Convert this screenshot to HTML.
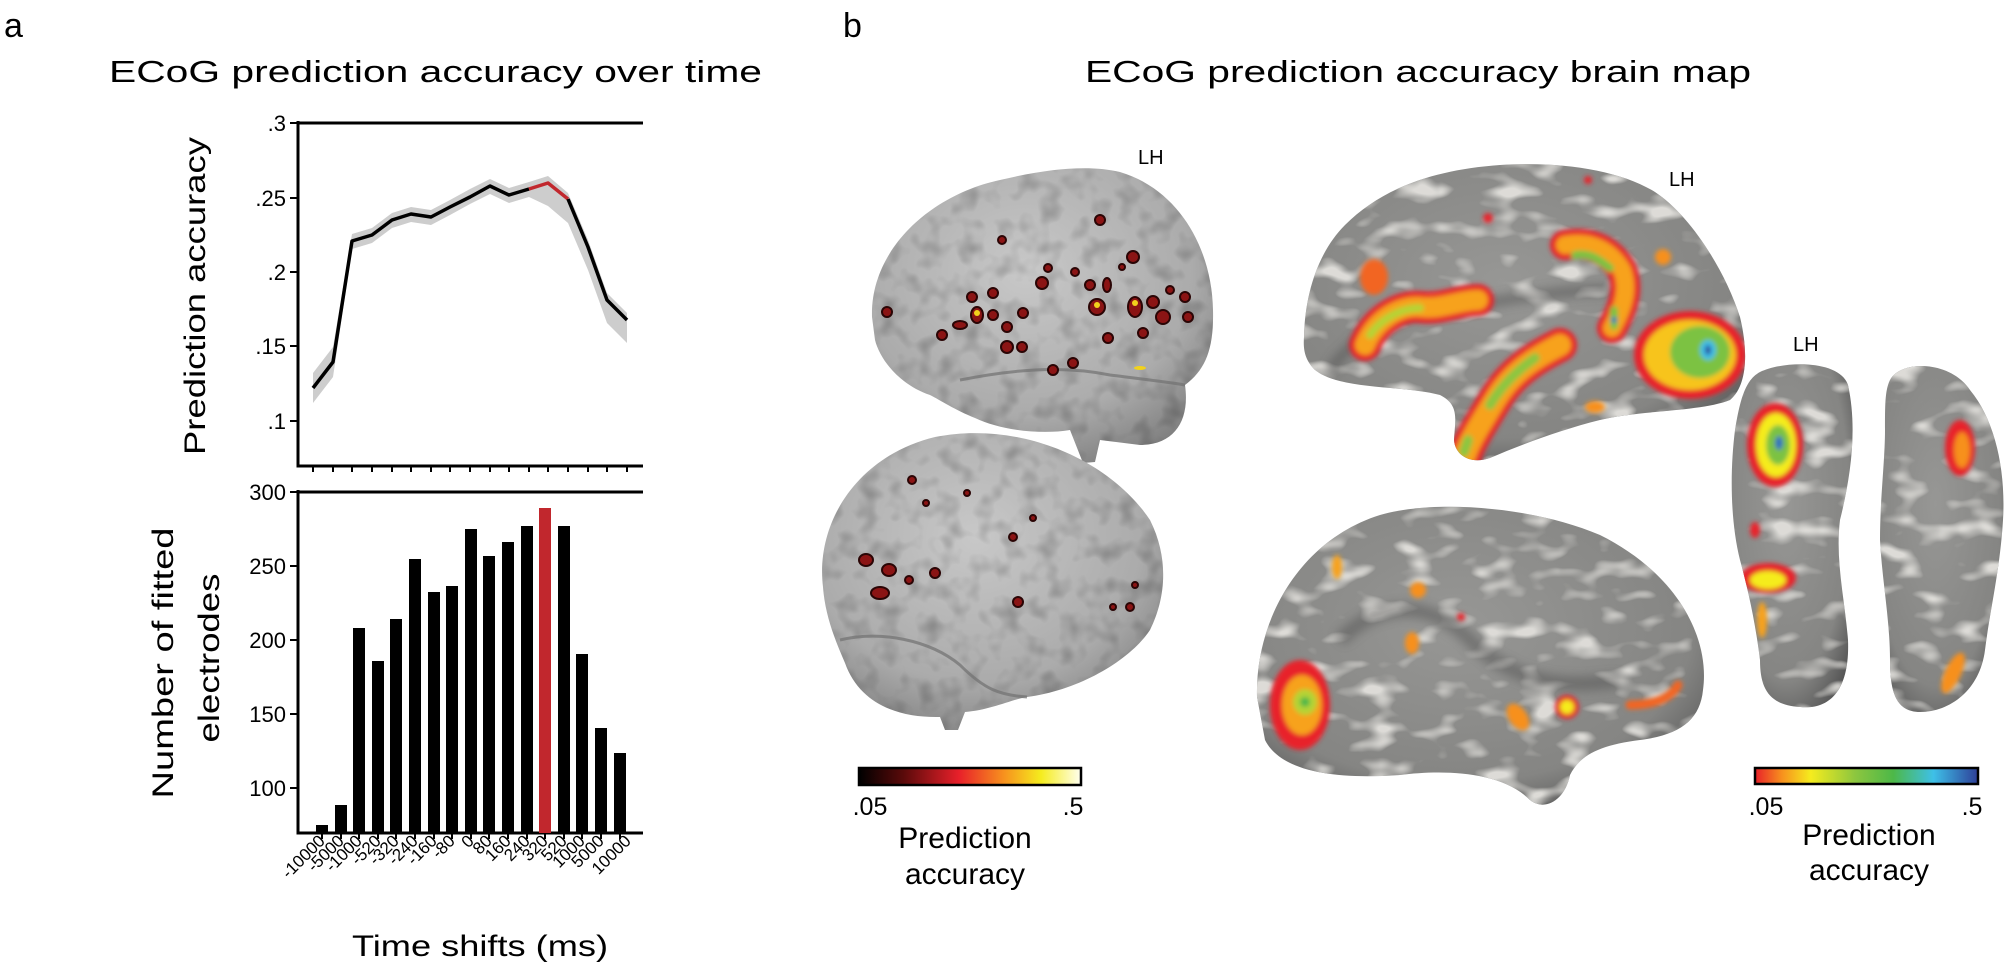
<!DOCTYPE html>
<html><head><meta charset="utf-8"><style>
html,body{margin:0;padding:0;background:#fff}
svg{display:block}
text{font-family:"Liberation Sans",sans-serif}
</style></head><body>
<svg width="2007" height="967" viewBox="0 0 2007 967" xmlns="http://www.w3.org/2000/svg">
<defs>
<radialGradient id="pial" cx="45%" cy="35%" r="70%"><stop offset="0" stop-color="#c8c8c8"/><stop offset="0.7" stop-color="#ababab"/><stop offset="1" stop-color="#808080"/></radialGradient>
<radialGradient id="infl" cx="45%" cy="40%" r="70%"><stop offset="0" stop-color="#979795"/><stop offset="0.75" stop-color="#858583"/><stop offset="1" stop-color="#555"/></radialGradient>
<linearGradient id="cb1" x1="0" x2="1"><stop offset="0" stop-color="#000"/><stop offset="0.2" stop-color="#5a0a0a"/><stop offset="0.45" stop-color="#e8202a"/><stop offset="0.65" stop-color="#f7901e"/><stop offset="0.82" stop-color="#f5ec1e"/><stop offset="1" stop-color="#fffff0"/></linearGradient>
<linearGradient id="cb2" x1="0" x2="1"><stop offset="0" stop-color="#e8202a"/><stop offset="0.12" stop-color="#f7901e"/><stop offset="0.25" stop-color="#f5ec1e"/><stop offset="0.45" stop-color="#8cc63f"/><stop offset="0.62" stop-color="#4db848"/><stop offset="0.8" stop-color="#3ec0e8"/><stop offset="1" stop-color="#2e3f98"/></linearGradient>
<filter id="bl" x="-50%" y="-50%" width="200%" height="200%"><feGaussianBlur stdDeviation="2.5"/></filter>
<filter id="bl6" x="-50%" y="-50%" width="200%" height="200%"><feGaussianBlur stdDeviation="5"/></filter>
<filter id="tex"><feTurbulence type="fractalNoise" baseFrequency="0.05" numOctaves="2" seed="3"/><feColorMatrix values="0 0 0 0 0  0 0 0 0 0  0 0 0 0 0  0 0 0 -2.2 1.2"/><feComposite in2="SourceGraphic" operator="in"/></filter>
<filter id="tex2"><feTurbulence type="fractalNoise" baseFrequency="0.025 0.05" numOctaves="2" seed="7"/><feColorMatrix values="0 0 0 0 0.72  0 0 0 0 0.71  0 0 0 0 0.68  0 0 0 -4 1.9"/><feComposite in2="SourceGraphic" operator="in"/></filter>
<clipPath id="cL"><path id="pL" d="M1304,337 C1305,290 1320,250 1345,225 C1380,190 1430,170 1500,165 C1560,161 1620,170 1655,192 C1690,215 1725,270 1740,317 C1748,350 1748,385 1730,400 C1700,412 1640,410 1600,420 C1560,430 1520,445 1490,458 C1470,465 1455,455 1454,440 C1455,420 1460,405 1440,395 C1400,385 1340,390 1315,370 C1305,360 1303,350 1304,337 Z"/></clipPath>
<clipPath id="cM"><path id="pM" d="M1257,697 C1255,620 1300,540 1380,515 C1430,500 1530,505 1600,535 C1680,575 1710,640 1703,690 C1700,720 1680,735 1640,740 C1600,745 1580,755 1570,775 C1565,800 1545,812 1530,800 C1500,770 1440,770 1400,775 C1330,780 1280,770 1265,740 Z"/></clipPath>
<clipPath id="cV1"><path id="pV1" d="M1760,372 C1785,360 1840,360 1848,385 C1858,430 1850,480 1840,520 C1835,560 1845,600 1848,640 C1850,690 1830,710 1800,707 C1770,705 1760,690 1760,660 C1755,620 1748,590 1740,560 C1730,520 1730,470 1735,430 C1740,400 1745,380 1760,372 Z"/></clipPath>
<clipPath id="cV2"><path id="pV2" d="M1890,380 C1900,360 1950,360 1970,390 C1995,420 2006,470 2003,520 C2000,570 1990,610 1985,650 C1980,690 1950,712 1920,712 C1895,712 1890,690 1890,660 C1890,620 1882,580 1880,540 C1880,500 1885,460 1885,430 C1885,405 1885,390 1890,380 Z"/></clipPath>
</defs>

<text x="4" y="37" font-size="34">a</text>
<text x="843" y="37" font-size="34">b</text>
<text x="109" y="82" font-size="31" textLength="653" lengthAdjust="spacingAndGlyphs">ECoG prediction accuracy over time</text>
<text x="1085" y="82" font-size="31" textLength="666" lengthAdjust="spacingAndGlyphs">ECoG prediction accuracy brain map</text>

<g stroke="#000" stroke-width="3" fill="none">
<path d="M298,123 L643,123 M298,121 L298,466 L643,466"/>
</g>
<g stroke="#000" stroke-width="2">
<path d="M290,123H298M290,198H298M290,272H298M290,346H298M290,421H298"/>
<path d="M313,466v6M333,466v6M352,466v6M372,466v6M392,466v6M411,466v6M431,466v6M450,466v6M470,466v6M490,466v6M509,466v6M529,466v6M548,466v6M568,466v6M588,466v6M607,466v6M627,466v6"/>
</g>
<g font-size="22" text-anchor="end">
<text x="286" y="131">.3</text><text x="286" y="206">.25</text><text x="286" y="280">.2</text><text x="286" y="354">.15</text><text x="286" y="429">.1</text>
</g>
<text transform="translate(205,296) rotate(-90)" font-size="30" text-anchor="middle" textLength="318" lengthAdjust="spacingAndGlyphs">Prediction accuracy</text>
<path d="M313,373 L333,347 L352,234 L372,228 L392,213 L411,207 L431,210 L450,200 L470,189 L490,179 L509,188 L529,182 L548,176 L568,193 L588,240 L607,293 L627,313 L627,343 L607,323 L588,270 L568,223 L548,206 L529,197 L509,203 L490,194 L470,204 L450,215 L431,225 L411,222 L392,228 L372,243 L352,249 L333,377 L313,403 Z" fill="#cdcdcd"/>
<polyline points="313,388 333,362 352,241 372,235 392,220 411,214 431,217 450,207 470,197 490,186 509,195 529,189" fill="none" stroke="#000" stroke-width="3.5" stroke-linejoin="round"/>
<polyline points="529,189 548,183 568,199" fill="none" stroke="#c1272d" stroke-width="3.5" stroke-linejoin="round"/>
<polyline points="568,199 588,247 607,300 627,320" fill="none" stroke="#000" stroke-width="3.5" stroke-linejoin="round"/>

<g stroke="#000" stroke-width="3" fill="none">
<path d="M298,492 L643,492 M298,490 L298,833 L643,833"/>
</g>
<g stroke="#000" stroke-width="2">
<path d="M290,492H298M290,566H298M290,640H298M290,714H298M290,788H298"/>
<path d="M322,833v6M341,833v6M359,833v6M378,833v6M396,833v6M415,833v6M434,833v6M452,833v6M471,833v6M489,833v6M508,833v6M527,833v6M545,833v6M564,833v6M582,833v6M601,833v6M620,833v6"/>
</g>
<g font-size="22" text-anchor="end">
<text x="286" y="500">300</text><text x="286" y="574">250</text><text x="286" y="648">200</text><text x="286" y="722">150</text><text x="286" y="796">100</text>
</g>
<g fill="#000">
<rect x="316" y="825" width="12" height="8"/>
<rect x="335" y="805" width="12" height="28"/>
<rect x="353" y="628" width="12" height="205"/>
<rect x="372" y="661" width="12" height="172"/>
<rect x="390" y="619" width="12" height="214"/>
<rect x="409" y="559" width="12" height="274"/>
<rect x="428" y="592" width="12" height="241"/>
<rect x="446" y="586" width="12" height="247"/>
<rect x="465" y="529" width="12" height="304"/>
<rect x="483" y="556" width="12" height="277"/>
<rect x="502" y="542" width="12" height="291"/>
<rect x="521" y="526" width="12" height="307"/>
<rect x="539" y="508" width="12" height="325" fill="#c1272d"/>
<rect x="558" y="526" width="12" height="307"/>
<rect x="576" y="654" width="12" height="179"/>
<rect x="595" y="728" width="12" height="105"/>
<rect x="614" y="753" width="12" height="80"/>
</g>
<g font-size="17" text-anchor="end">
<text transform="translate(326,842) rotate(-45)">-10000</text>
<text transform="translate(345,842) rotate(-45)">-5000</text>
<text transform="translate(363,842) rotate(-45)">-1000</text>
<text transform="translate(382,842) rotate(-45)">-520</text>
<text transform="translate(400,842) rotate(-45)">-320</text>
<text transform="translate(419,842) rotate(-45)">-240</text>
<text transform="translate(438,842) rotate(-45)">-160</text>
<text transform="translate(456,842) rotate(-45)">-80</text>
<text transform="translate(475,842) rotate(-45)">0</text>
<text transform="translate(493,842) rotate(-45)">80</text>
<text transform="translate(512,842) rotate(-45)">160</text>
<text transform="translate(531,842) rotate(-45)">240</text>
<text transform="translate(549,842) rotate(-45)">320</text>
<text transform="translate(568,842) rotate(-45)">520</text>
<text transform="translate(586,842) rotate(-45)">1000</text>
<text transform="translate(605,842) rotate(-45)">5000</text>
<text transform="translate(632,842) rotate(-45)">10000</text>
</g>
<text transform="translate(173,663) rotate(-90)" font-size="30" text-anchor="middle" textLength="271" lengthAdjust="spacingAndGlyphs">Number of fitted</text>
<text transform="translate(219,658) rotate(-90)" font-size="30" text-anchor="middle" textLength="169" lengthAdjust="spacingAndGlyphs">electrodes</text>
<text x="480" y="956" font-size="30" text-anchor="middle" textLength="256" lengthAdjust="spacingAndGlyphs">Time shifts (ms)</text>

<path d="M872,317 C870,250 930,195 1000,180 C1050,168 1090,165 1120,172 C1180,190 1212,250 1213,310 C1214,350 1205,370 1185,385 C1190,420 1175,445 1140,445 L1100,440 L1095,462 L1083,463 L1070,430 C1040,435 1000,430 975,418 C955,410 940,400 930,395 C900,385 880,360 875,340 Z" fill="url(#pial)"/>
<path d="M872,317 C870,250 930,195 1000,180 C1050,168 1090,165 1120,172 C1180,190 1212,250 1213,310 C1214,350 1205,370 1185,385 C1190,420 1175,445 1140,445 L1100,440 L1095,462 L1083,463 L1070,430 C1040,435 1000,430 975,418 C955,410 940,400 930,395 C900,385 880,360 875,340 Z" fill="#777" filter="url(#tex)" opacity="0.22"/>
<path d="M960,380 C1010,370 1060,365 1110,375 C1150,380 1175,383 1185,385" fill="none" stroke="#707070" stroke-width="3" opacity="0.7"/>
<g fill="#8b1414" stroke="#2a0505" stroke-width="2">
<circle cx="887" cy="312" r="5"/><circle cx="942" cy="335" r="5"/><ellipse cx="960" cy="325" rx="7" ry="4"/><ellipse cx="977" cy="315" rx="6" ry="8"/><circle cx="972" cy="297" r="5"/><circle cx="993" cy="293" r="5"/><circle cx="993" cy="315" r="5"/><circle cx="1007" cy="327" r="5"/><circle cx="1023" cy="313" r="5"/><circle cx="1042" cy="283" r="6"/><circle cx="1007" cy="347" r="6"/><circle cx="1022" cy="347" r="5"/><circle cx="1053" cy="370" r="5"/><circle cx="1073" cy="363" r="5"/><circle cx="1097" cy="307" r="8"/><circle cx="1108" cy="338" r="5"/><ellipse cx="1107" cy="285" rx="4" ry="7"/><circle cx="1090" cy="285" r="5"/><circle cx="1075" cy="272" r="4"/><ellipse cx="1135" cy="307" rx="7" ry="10"/><circle cx="1143" cy="333" r="5"/><circle cx="1153" cy="302" r="6"/><circle cx="1163" cy="317" r="7"/><circle cx="1133" cy="257" r="6"/><circle cx="1100" cy="220" r="5"/><circle cx="1002" cy="240" r="4"/><circle cx="1048" cy="268" r="4"/><circle cx="1185" cy="297" r="5"/><circle cx="1188" cy="317" r="5"/><circle cx="1170" cy="290" r="4"/><circle cx="1122" cy="267" r="3"/>
</g>
<g fill="#f2d21c"><circle cx="977" cy="313" r="3"/><circle cx="1097" cy="305" r="3"/><circle cx="1135" cy="303" r="3"/><ellipse cx="1140" cy="368" rx="6" ry="2"/></g>
<text x="1138" y="164" font-size="20">LH</text>

<path d="M823,587 C815,520 860,455 935,437 C1020,420 1110,460 1150,520 C1170,560 1165,600 1150,630 C1130,660 1080,690 1027,697 C1010,700 990,710 965,712 L958,730 L945,730 L940,717 C900,718 860,705 845,663 C835,640 825,615 823,587 Z" fill="url(#pial)"/>
<path d="M823,587 C815,520 860,455 935,437 C1020,420 1110,460 1150,520 C1170,560 1165,600 1150,630 C1130,660 1080,690 1027,697 C1010,700 990,710 965,712 L958,730 L945,730 L940,717 C900,718 860,705 845,663 C835,640 825,615 823,587 Z" fill="#777" filter="url(#tex)" opacity="0.22"/>
<path d="M840,640 C880,630 930,640 960,665 C985,690 1000,695 1027,697" fill="none" stroke="#707070" stroke-width="3" opacity="0.7"/>
<g fill="#8b1414" stroke="#2a0505" stroke-width="2">
<ellipse cx="866" cy="560" rx="7" ry="6"/><ellipse cx="889" cy="570" rx="7" ry="6"/><ellipse cx="880" cy="593" rx="9" ry="6"/><circle cx="909" cy="580" r="4"/><circle cx="935" cy="573" r="5"/><circle cx="1018" cy="602" r="5"/><circle cx="1013" cy="537" r="4"/><circle cx="1033" cy="518" r="3"/><circle cx="967" cy="493" r="3"/><circle cx="926" cy="503" r="3"/><circle cx="912" cy="480" r="4"/><circle cx="1130" cy="607" r="4"/><circle cx="1113" cy="607" r="3"/><circle cx="1135" cy="585" r="3"/>
</g>

<rect x="859" y="768" width="222" height="17" fill="url(#cb1)" stroke="#000" stroke-width="2.5"/>
<text x="870" y="815" font-size="25" text-anchor="middle">.05</text>
<text x="1073" y="815" font-size="25" text-anchor="middle">.5</text>
<text x="965" y="848" font-size="30" text-anchor="middle">Prediction</text>
<text x="965" y="884" font-size="30" text-anchor="middle">accuracy</text>

<use href="#pL" fill="url(#infl)"/>
<g clip-path="url(#cL)">
<use href="#pL" fill="#fff" filter="url(#tex2)"/>
<path d="M1330,370 C1360,330 1400,310 1450,310 C1500,300 1560,290 1610,290" fill="none" stroke="#4a4a4a" stroke-width="10" opacity="0.5" filter="url(#bl6)"/>
<g filter="url(#bl)">
<path d="M1365,345 C1375,320 1400,305 1420,307 C1440,310 1460,300 1478,300" fill="none" stroke="#e8202a" stroke-width="32" stroke-linecap="round"/>
<path d="M1365,345 C1375,320 1400,305 1420,307 C1440,310 1460,300 1478,300" fill="none" stroke="#f7a21e" stroke-width="20" stroke-linecap="round"/>
<path d="M1370,335 C1380,320 1400,308 1420,308" fill="none" stroke="#b5d334" stroke-width="8" stroke-linecap="round"/>
<path d="M1565,245 C1590,240 1610,250 1622,270 C1630,290 1622,310 1612,328" fill="none" stroke="#e8202a" stroke-width="30" stroke-linecap="round"/>
<path d="M1565,245 C1590,240 1610,250 1622,270 C1630,290 1622,310 1612,328" fill="none" stroke="#f7a21e" stroke-width="18" stroke-linecap="round"/>
<path d="M1575,255 C1590,252 1600,260 1610,268 M1614,310 L1614,326" fill="none" stroke="#7cc242" stroke-width="8" stroke-linecap="round"/>
<circle cx="1614" cy="320" r="3" fill="#2e6fc0"/>
<path d="M1560,345 C1530,360 1510,375 1495,400 C1480,425 1470,440 1465,455" fill="none" stroke="#e8202a" stroke-width="34" stroke-linecap="round"/>
<path d="M1560,345 C1530,360 1510,375 1495,400 C1480,425 1470,440 1465,455" fill="none" stroke="#f7a21e" stroke-width="22" stroke-linecap="round"/>
<path d="M1535,358 C1515,372 1500,388 1490,405 M1468,440 L1464,452" fill="none" stroke="#8cc63f" stroke-width="10" stroke-linecap="round"/>
<ellipse cx="1690" cy="355" rx="56" ry="44" fill="#e8202a"/>
<ellipse cx="1690" cy="355" rx="46" ry="35" fill="#f7c41e"/>
<ellipse cx="1700" cy="352" rx="30" ry="26" fill="#7cc242"/>
<ellipse cx="1708" cy="350" rx="8" ry="10" fill="#3ec0e8"/>
<ellipse cx="1708" cy="350" rx="3" ry="5" fill="#2e3f98"/>
<ellipse cx="1374" cy="277" rx="14" ry="18" fill="#f26522"/>
<circle cx="1663" cy="257" r="8" fill="#f7901e"/>
<ellipse cx="1595" cy="407" rx="10" ry="6" fill="#f7901e"/>
<circle cx="1488" cy="218" r="5" fill="#e8202a"/>
<circle cx="1588" cy="180" r="4" fill="#e8202a"/>
</g>
</g>
<text x="1669" y="186" font-size="20">LH</text>

<use href="#pM" fill="url(#infl)"/>
<g clip-path="url(#cM)">
<use href="#pM" fill="#fff" filter="url(#tex2)"/>
<path d="M1340,640 C1380,600 1430,600 1470,640 C1510,680 1560,690 1620,680" fill="none" stroke="#4a4a4a" stroke-width="14" opacity="0.45" filter="url(#bl6)"/>
<g filter="url(#bl)">
<ellipse cx="1300" cy="705" rx="30" ry="45" fill="#e8202a"/>
<ellipse cx="1302" cy="705" rx="20" ry="30" fill="#f7a21e"/>
<ellipse cx="1305" cy="702" rx="12" ry="13" fill="#b5d334"/>
<circle cx="1305" cy="702" r="5" fill="#4db848"/>
<ellipse cx="1337" cy="567" rx="5" ry="12" fill="#f7a21e"/>
<circle cx="1418" cy="590" r="8" fill="#f7901e"/>
<ellipse cx="1412" cy="643" rx="7" ry="11" fill="#f7901e"/>
<circle cx="1567" cy="707" r="12" fill="#e8202a"/><circle cx="1567" cy="707" r="7" fill="#f5ec1e"/>
<ellipse cx="1518" cy="717" rx="9" ry="15" fill="#f7901e" transform="rotate(-35 1518 717)"/>
<path d="M1630,705 C1650,705 1670,700 1678,685" fill="none" stroke="#f26522" stroke-width="9" stroke-linecap="round"/>
<circle cx="1461" cy="617" r="4" fill="#e8202a"/>
</g>
</g>

<use href="#pV1" fill="url(#infl)"/>
<g clip-path="url(#cV1)">
<use href="#pV1" fill="#fff" filter="url(#tex2)"/>
<g filter="url(#bl)">
<ellipse cx="1775" cy="445" rx="28" ry="42" fill="#e8202a"/>
<ellipse cx="1776" cy="445" rx="20" ry="32" fill="#f5ec1e"/>
<ellipse cx="1778" cy="445" rx="12" ry="20" fill="#7cc242"/>
<ellipse cx="1779" cy="443" rx="4" ry="7" fill="#2e6fc0"/>
<ellipse cx="1768" cy="578" rx="28" ry="15" fill="#e8202a"/>
<ellipse cx="1768" cy="580" rx="18" ry="9" fill="#f5ec1e"/>
<ellipse cx="1755" cy="530" rx="5" ry="8" fill="#e8202a"/>
<ellipse cx="1762" cy="620" rx="5" ry="18" fill="#f7a21e"/>
</g>
</g>
<use href="#pV2" fill="url(#infl)"/>
<g clip-path="url(#cV2)">
<use href="#pV2" fill="#fff" filter="url(#tex2)"/>
<g filter="url(#bl)">
<ellipse cx="1960" cy="448" rx="15" ry="28" fill="#e8202a"/>
<ellipse cx="1962" cy="450" rx="8" ry="18" fill="#f7901e"/>
<ellipse cx="1953" cy="673" rx="8" ry="22" fill="#f7901e" transform="rotate(25 1953 673)"/>
</g>
</g>
<text x="1793" y="351" font-size="20">LH</text>

<rect x="1755" y="768" width="223" height="16" fill="url(#cb2)" stroke="#000" stroke-width="2.5"/>
<text x="1766" y="815" font-size="25" text-anchor="middle">.05</text>
<text x="1972" y="815" font-size="25" text-anchor="middle">.5</text>
<text x="1869" y="845" font-size="30" text-anchor="middle">Prediction</text>
<text x="1869" y="880" font-size="30" text-anchor="middle">accuracy</text>
</svg>
</body></html>
